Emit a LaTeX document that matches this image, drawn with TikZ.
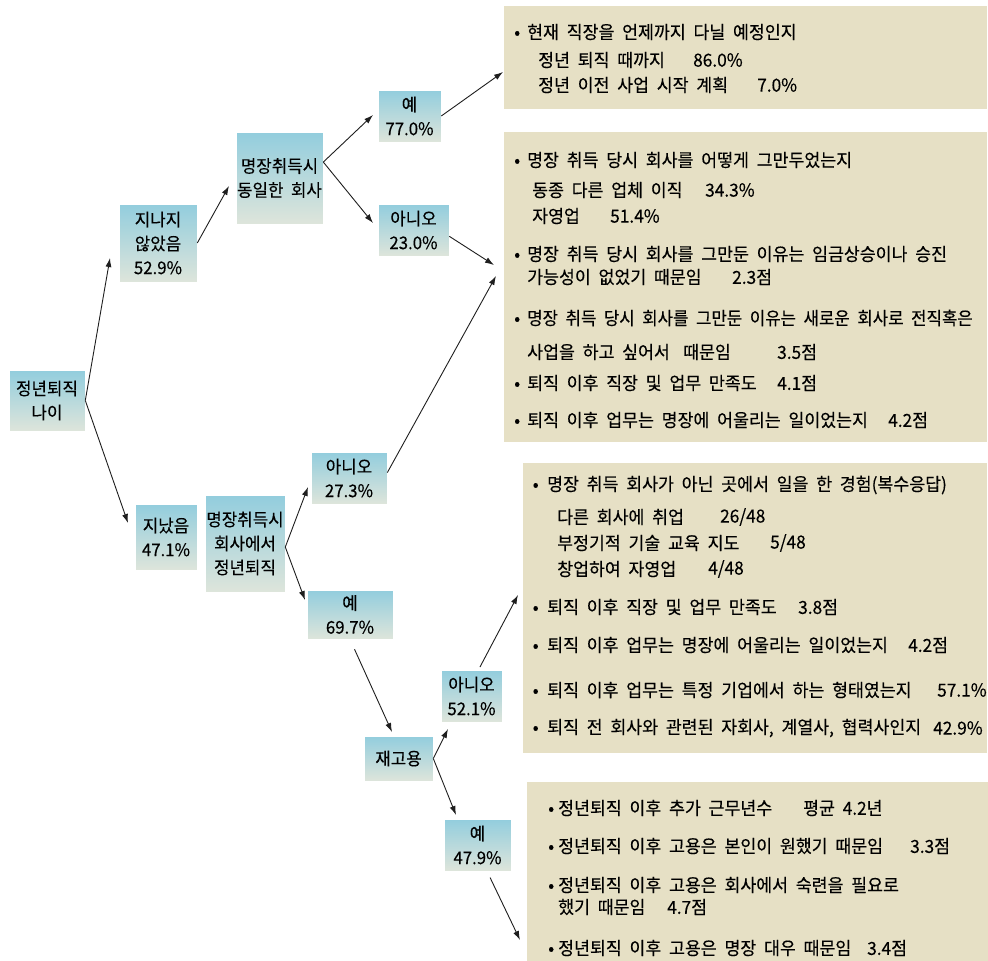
\documentclass[tikz,border=0pt]{standalone}
\usepackage{fontspec}
\newfontfamily\kr[WordSpace=2,FakeStretch=0.96,FakeBold=0.25]{Noto Sans CJK KR}
\usetikzlibrary{arrows.meta}
\definecolor{nodetop}{RGB}{146,205,221}
\definecolor{nodebot}{RGB}{222,229,219}
\definecolor{infobg}{RGB}{230,224,197}
\definecolor{lineclr}{RGB}{30,30,30}
\newcommand{\bul}[1]{\llap{\makebox[0pt][c]{•}\hspace{#1}}}
\tikzset{
 qbox/.style={rectangle, top color=nodetop, bottom color=nodebot, draw=white, line width=0.6pt, inner sep=0pt, align=center, font=\kr\fontsize{17.5}{24}\selectfont, text=black},
 infobox/.style={rectangle, fill=infobg, draw=none, inner sep=0pt},
 itxt/.style={anchor=west, inner sep=0pt, font=\kr\fontsize{18}{20}\selectfont, text=black},
 arr/.style={draw=lineclr, line width=0.9pt, -{Latex[length=9pt,width=6pt]}},
}
\begin{document}
\begin{tikzpicture}[x=1pt,y=-1pt]
\useasboundingbox (0,0) rectangle (988,961);
% info boxes
\path[infobox] (504,6) rectangle (987,109);
\path[infobox] (504,132) rectangle (987,442);
\path[infobox] (523,463) rectangle (987,753);
\path[infobox] (527,782) rectangle (988,961);
% question nodes
\node[qbox, minimum width=76pt, minimum height=61pt] (root) at (47,400.5) {정년퇴직\\나이};
\node[qbox, minimum width=78pt, minimum height=78pt] (n1) at (158,243) {지나지\\않았음\\52.9\%};
\node[qbox, minimum width=87pt, minimum height=92pt] (n2) at (279.5,178) {명장취득시\\동일한 회사};
\node[qbox, minimum width=63pt, minimum height=52pt] (n3) at (409.5,116) {예\\77.0\%};
\node[qbox, minimum width=71pt, minimum height=52pt] (n4) at (413.5,230) {아니오\\23.0\%};
\node[qbox, minimum width=62pt, minimum height=66pt] (m1) at (166,537) {지났음\\47.1\%};
\node[qbox, minimum width=80pt, minimum height=97pt] (m2) at (245,543.5) {명장취득시\\회사에서\\정년퇴직};
\node[qbox, minimum width=76pt, minimum height=52pt] (m3) at (349,478) {아니오\\27.3\%};
\node[qbox, minimum width=86pt, minimum height=49pt] (m4) at (350,614.5) {예\\69.7\%};
\node[qbox, minimum width=69pt, minimum height=45pt] (m5) at (398.5,758.5) {재고용};
\node[qbox, minimum width=61pt, minimum height=52pt] (m6) at (471.5,696) {아니오\\52.1\%};
\node[qbox, minimum width=67pt, minimum height=52pt] (m7) at (477.5,845) {예\\47.9\%};
% box 1 text
\node[itxt] (b1a) at (527,32) {\bul{10pt}현재 직장을 언제까지 다닐 예정인지};
\node[itxt] (b1b) at (538,60) {정년 퇴직 때까지};
\node[itxt] (b1bv) at (693,60) {86.0\%};
\node[itxt] (b1c) at (538,85) {정년 이전 사업 시작 계획};
\node[itxt] (b1cv) at (757,85) {7.0\%};
% box 2 text
\node[itxt] (b2a) at (527,160) {\bul{10pt}명장 취득 당시 회사를 어떻게 그만두었는지};
\node[itxt] (b2b) at (532,190) {동종 다른 업체 이직};
\node[itxt] (b2bv) at (705,190) {34.3\%};
\node[itxt] (b2c) at (532,216) {자영업};
\node[itxt] (b2cv) at (610,216) {51.4\%};
\node[itxt] (b2d) at (527,254) {\bul{10pt}명장 취득 당시 회사를 그만둔 이유는 임금상승이나 승진};
\node[itxt] (b2e) at (527,277) {가능성이 없었기 때문임};
\node[itxt] (b2ev) at (732,277) {2.3점};
\node[itxt] (b2f) at (527,318) {\bul{10pt}\scalebox{0.97}[1]{명장 취득 당시 회사를 그만둔 이유는 새로운 회사로 전직혹은}};
\node[itxt] (b2g) at (527,352) {사업을 하고 싶어서};
\node[itxt] (b2g2) at (683,352) {때문임};
\node[itxt] (b2gv) at (777,352) {3.5점};
\node[itxt] (b2h) at (527,383) {\bul{10pt}퇴직 이후 직장 및 업무 만족도};
\node[itxt] (b2hv) at (777,383) {4.1점};
\node[itxt] (b2i) at (527,420) {\bul{10pt}퇴직 이후 업무는 명장에 어울리는 일이었는지};
\node[itxt] (b2iv) at (888,420) {4.2점};
% box 3 text
\node[itxt] (b3a) at (547,485) {\bul{11.5pt}명장 취득 회사가 아닌 곳에서 일을 한 경험(복수응답)};
\node[itxt] (b3b) at (557,517) {다른 회사에 취업};
\node[itxt] (b3bv) at (720,517) {26/48};
\node[itxt] (b3c) at (557,543) {부정기적 기술 교육 지도};
\node[itxt] (b3cv) at (770,543) {5/48};
\node[itxt] (b3d) at (557,569) {창업하여 자영업};
\node[itxt] (b3dv) at (708,569) {4/48};
\node[itxt] (b3e) at (547,607) {\bul{11.5pt}퇴직 이후 직장 및 업무 만족도};
\node[itxt] (b3ev) at (798,607) {3.8점};
\node[itxt] (b3f) at (547,645) {\bul{11.5pt}퇴직 이후 업무는 명장에 어울리는 일이었는지};
\node[itxt] (b3fv) at (908,645) {4.2점};
\node[itxt] (b3g) at (547,690) {\bul{11.5pt}퇴직 이후 업무는 특정 기업에서 하는 형태였는지};
\node[itxt] (b3gv) at (937,690) {57.1\%};
\node[itxt] (b3h) at (547,728) {\bul{11.5pt}퇴직 전 회사와 관련된 자회사, 계열사, 협력사인지};
\node[itxt] (b3hv) at (933,728) {42.9\%};
% box 4 text
\node[itxt] (b4a) at (558,808) {\bul{7pt}정년퇴직 이후 추가 근무년수};
\node[itxt] (b4av) at (803,808) {평균 4.2년};
\node[itxt] (b4b) at (558,846) {\bul{7pt}정년퇴직 이후 고용은 본인이 원했기 때문임};
\node[itxt] (b4bv) at (910,846) {3.3점};
\node[itxt] (b4c) at (558,885) {\bul{7pt}정년퇴직 이후 고용은 회사에서 숙련을 필요로};
\node[itxt] (b4d) at (558,907) {했기 때문임};
\node[itxt] (b4dv) at (667,907) {4.7점};
\node[itxt] (b4e) at (558,948) {\bul{7pt}정년퇴직 이후 고용은 명장 대우 때문임};
\node[itxt] (b4ev) at (867,948) {3.4점};
% arrow tips
\coordinate (t1) at (110,258);
\coordinate (t2) at (128,523);
\coordinate (t3) at (229,186);
\coordinate (t4) at (373,115);
\coordinate (t5) at (373,223);
\coordinate (t6) at (503,72);
\coordinate (t7) at (494,265);
\coordinate (t8) at (496,276);
\coordinate (t9) at (308,487);
\coordinate (t10) at (305,600);
\coordinate (t11) at (392,732);
\coordinate (t12) at (448,729);
\coordinate (t13) at (456,815);
\coordinate (t14) at (518,595);
\coordinate (t15) at (520,940);
% connectors
\draw[arr] (root.east) -- (t1);
\draw[arr] (root.east) -- (t2);
\draw[arr] (n1.east) -- (t3);
\draw[arr] (n2.20) -- (t4);
\draw[arr] (n2.20) -- (t5);
\draw[arr] (n3.east) -- (t6);
\draw[arr] (n4.-10) -- (t7);
\draw[arr] (m3.8) -- (t8);
\draw[arr] (m2.-5) -- (t9);
\draw[arr] (m2.-5) -- (t10);
\draw[arr, shorten <=11pt] (m4.south) -- (t11);
\draw[arr] (m5.east) -- (t12);
\draw[arr] (m5.east) -- (t13);
\draw[arr, shorten <=3pt] (m6.75) -- (t14);
\draw[arr, shorten <=7pt] (m7.-70) -- (t15);
\end{tikzpicture}
\end{document}
